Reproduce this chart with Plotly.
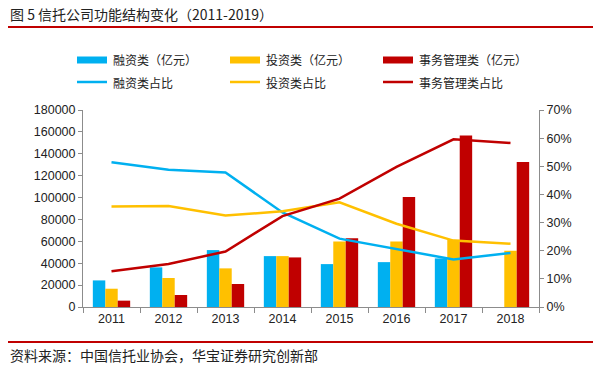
import plotly.graph_objects as go

years = ["2011", "2012", "2013", "2014", "2015", "2016", "2017", "2018"]
financing = [24300, 36200, 52000, 46500, 39200, 41000, 44400, 0]
investment = [16700, 26500, 35300, 46500, 59900, 59900, 61400, 51400]
management = [5800, 10950, 21000, 45300, 62900, 100600, 156600, 132600]
financing_pct = [0.514, 0.488, 0.478, 0.336, 0.243, 0.206, 0.169, 0.192]
investment_pct = [0.357, 0.359, 0.325, 0.340, 0.372, 0.296, 0.236, 0.225]
management_pct = [0.127, 0.153, 0.197, 0.323, 0.385, 0.498, 0.596, 0.583]

bar_names = ["融资类（亿元）", "投资类（亿元）", "事务管理类（亿元）"]
line_names = ["融资类占比", "投资类占比", "事务管理类占比"]
title_text = "图 5 信托公司功能结构变化（2011-2019）"
source_text = "资料来源：中国信托业协会，华宝证券研究创新部"

colors = ["#00B0F0", "#FFC000", "#C00000"]
W, H = 600, 365
L, R, T, B = 83, 539, 110, 307
cjk = "Noto Sans CJK SC"
num_font = "Liberation Sans, Arial"

fig = go.Figure()
for vals, name, c in zip([financing, investment, management], bar_names, colors):
    fig.add_trace(go.Bar(x=years, y=vals, name=name, marker_color=c,
                         marker_line_width=0, showlegend=False))
for vals, name, c in zip([financing_pct, investment_pct, management_pct], line_names, colors):
    fig.add_trace(go.Scatter(x=years, y=vals, name=name, mode="lines",
                             line=dict(color=c, width=2.5), yaxis="y2", showlegend=False))

axis_col = "#8c8c8c"
fig.update_layout(
    width=W, height=H,
    margin=dict(l=L, r=W - R, t=T, b=H - B, pad=0, autoexpand=False),
    paper_bgcolor="white", plot_bgcolor="white",
    barmode="group", bargap=0.345, bargroupgap=0,
    xaxis=dict(type="category", showline=True, linecolor=axis_col, linewidth=1,
               ticks="outside", tickson="boundaries", ticklen=5, tickcolor=axis_col,
               tickfont=dict(family=num_font, size=12.5, color="#222"), showgrid=False),
    yaxis=dict(range=[0, 180000], dtick=20000, showline=True, linecolor=axis_col,
               ticks="outside", ticklen=4, tickcolor=axis_col, showgrid=False,
               tickformat="d", zeroline=False,
               tickfont=dict(family=num_font, size=12.5, color="#222")),
    yaxis2=dict(range=[0, 0.7], dtick=0.1, overlaying="y", side="right",
                showline=True, linecolor=axis_col, ticks="outside", ticklen=4,
                tickcolor=axis_col, showgrid=False, tickformat=".0%", zeroline=False,
                tickfont=dict(family=num_font, size=12.5, color="#222")),
    showlegend=False,
)

def px(x):
    return (x - L) / (R - L)

def py(y):
    return (B - y) / (B - T)

shapes = []
annotations = []
# title + rules
annotations.append(dict(text=title_text, x=px(8), y=py(14), xref="paper", yref="paper",
                        xanchor="left", yanchor="middle", showarrow=False,
                        font=dict(family=cjk, size=14, color="#222")))
shapes.append(dict(type="line", xref="paper", yref="paper", x0=px(8), x1=px(593),
                   y0=py(27), y1=py(27), line=dict(color="#C00000", width=2)))
shapes.append(dict(type="line", xref="paper", yref="paper", x0=px(8), x1=px(593),
                   y0=py(342), y1=py(342), line=dict(color="#C00000", width=2)))
annotations.append(dict(text=source_text, x=px(8), y=py(355), xref="paper", yref="paper",
                        xanchor="left", yanchor="middle", showarrow=False,
                        font=dict(family=cjk, size=14, color="#222")))
# legend
leg_x = [77, 230, 383]
for i in range(3):
    x0 = leg_x[i]
    shapes.append(dict(type="rect", xref="paper", yref="paper", x0=px(x0), x1=px(x0 + 30),
                       y0=py(63.5), y1=py(56.5), fillcolor=colors[i], line=dict(width=0)))
    annotations.append(dict(text=bar_names[i], x=px(x0 + 34), y=py(60), xref="paper", yref="paper",
                            xanchor="left", yanchor="middle", showarrow=False,
                            font=dict(family=cjk, size=12, color="#222")))
    shapes.append(dict(type="line", xref="paper", yref="paper", x0=px(x0), x1=px(x0 + 30),
                       y0=py(82), y1=py(82), line=dict(color=colors[i], width=2.5)))
    annotations.append(dict(text=line_names[i], x=px(x0 + 34), y=py(82), xref="paper", yref="paper",
                            xanchor="left", yanchor="middle", showarrow=False,
                            font=dict(family=cjk, size=12, color="#222")))

fig.update_layout(shapes=shapes, annotations=annotations)
fig.write_html("out.html", config={"displayModeBar": False},
               post_script="document.body.style.margin='0';")
